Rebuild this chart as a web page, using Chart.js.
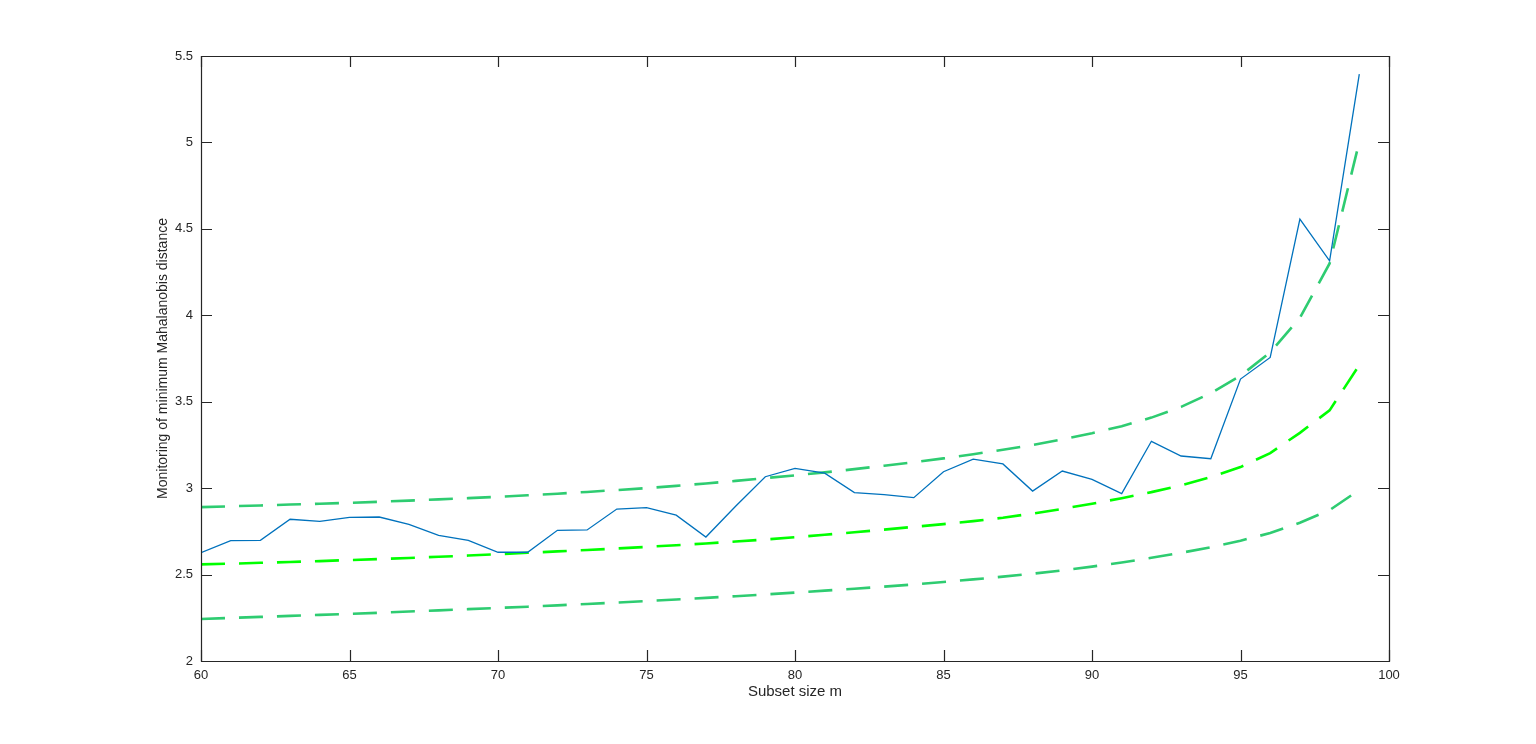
<!DOCTYPE html>
<html>
<head>
<meta charset="utf-8">
<script src="https://cdn.jsdelivr.net/npm/chart.js@4.4.1/dist/chart.umd.min.js"></script>
<style>
  html, body { margin: 0; padding: 0; background: #ffffff; }
  canvas { display: block; }
</style>
</head>
<body>
<canvas id="c" width="1536" height="744"></canvas>
<script>
// ---- data ----
const subsetSize = [60,61,62,63,64,65,66,67,68,69,70,71,72,73,74,75,76,77,78,79,80,81,82,83,84,85,86,87,88,89,90,91,92,93,94,95,96,97,98,99];

const minMahalanobis = [2.627,2.696,2.698,2.820,2.808,2.831,2.833,2.791,2.727,2.698,2.629,2.629,2.756,2.758,2.879,2.887,2.844,2.717,2.895,3.066,3.114,3.087,2.974,2.962,2.945,3.095,3.168,3.140,2.983,3.099,3.051,2.968,3.271,3.186,3.170,3.631,3.756,4.556,4.315,5.395];

const envelopeUpper = [2.890,2.895,2.900,2.905,2.910,2.915,2.921,2.928,2.935,2.942,2.950,2.959,2.968,2.978,2.989,3.000,3.013,3.027,3.042,3.058,3.074,3.091,3.110,3.130,3.150,3.172,3.196,3.222,3.250,3.282,3.318,3.358,3.408,3.470,3.550,3.650,3.785,3.985,4.300,5.004];

const envelopeMiddle = [2.559,2.563,2.568,2.573,2.578,2.584,2.590,2.596,2.603,2.610,2.618,2.626,2.634,2.642,2.651,2.660,2.670,2.680,2.691,2.703,2.716,2.730,2.745,2.760,2.776,2.792,2.809,2.829,2.853,2.880,2.910,2.942,2.977,3.016,3.064,3.122,3.203,3.320,3.450,3.712];

const envelopeLower = [2.243,2.249,2.255,2.261,2.267,2.273,2.279,2.286,2.293,2.300,2.307,2.314,2.322,2.330,2.338,2.347,2.356,2.365,2.375,2.385,2.396,2.407,2.418,2.430,2.443,2.457,2.472,2.488,2.505,2.524,2.546,2.570,2.597,2.626,2.658,2.696,2.740,2.800,2.873,2.990];

const xTicks = [60,65,70,75,80,85,90,95,100];
const yTicks = [2,2.5,3,3.5,4,4.5,5,5.5];

const xTitle = 'Subset size m';
const yTitle = 'Monitoring of minimum Mahalanobis distance';

// ---- build ----
const pts = (ys) => subsetSize.map((m, i) => ({x: m, y: ys[i]}));

const AXIS_COLOR = '#262626';
const ENV_COLOR = 'rgb(46,204,113)';
const MID_COLOR = 'rgb(0,255,0)';
const FONT = '"Liberation Sans", Arial, Helvetica, sans-serif';

const matlabAxes = {
  id: 'matlabAxes',
  afterDatasetsDraw(chart) {
    const {ctx, chartArea: a, scales: {x, y}} = chart;
    const tl = 11;
    ctx.save();
    ctx.strokeStyle = AXIS_COLOR;
    ctx.lineWidth = 1.2;
    ctx.beginPath();
    ctx.rect(Math.round(a.left) + 0.5, Math.round(a.top) + 0.5, Math.round(a.right - a.left), Math.round(a.bottom - a.top));
    ctx.stroke();
    ctx.beginPath();
    xTicks.forEach(v => {
      const px = Math.round(x.getPixelForValue(v)) + 0.5;
      ctx.moveTo(px, a.bottom); ctx.lineTo(px, a.bottom - tl);
      ctx.moveTo(px, a.top); ctx.lineTo(px, a.top + tl);
    });
    yTicks.forEach(v => {
      const py = Math.round(y.getPixelForValue(v)) + 0.5;
      ctx.moveTo(a.left, py); ctx.lineTo(a.left + tl, py);
      ctx.moveTo(a.right, py); ctx.lineTo(a.right - tl, py);
    });
    ctx.stroke();
    ctx.restore();
  }
};

new Chart(document.getElementById('c'), {
  type: 'line',
  data: {
    datasets: [
      { label: 'min MD', data: pts(minMahalanobis), borderColor: '#0072BD', borderWidth: 1.3, pointRadius: 0, tension: 0, fill: false },
      { label: 'upper', data: pts(envelopeUpper), borderColor: ENV_COLOR, borderWidth: 2.6, borderDash: [24, 14], pointRadius: 0, tension: 0, fill: false },
      { label: 'middle', data: pts(envelopeMiddle), borderColor: MID_COLOR, borderWidth: 2.6, borderDash: [24, 14], pointRadius: 0, tension: 0, fill: false },
      { label: 'lower', data: pts(envelopeLower), borderColor: ENV_COLOR, borderWidth: 2.6, borderDash: [24, 14], pointRadius: 0, tension: 0, fill: false }
    ]
  },
  options: {
    responsive: false,
    animation: false,
    layout: { padding: { left: 0, top: 56, right: 147, bottom: 0 } },
    plugins: { legend: { display: false }, tooltip: { enabled: false } },
    scales: {
      x: {
        type: 'linear', min: 60, max: 100,
        afterBuildTicks: (s) => { s.ticks = xTicks.map(v => ({value: v})); },
        afterFit: (s) => { s.height = 83; },
        grid: { display: false, drawTicks: false },
        border: { display: false },
        ticks: { color: AXIS_COLOR, font: { family: FONT, size: 13 }, padding: 7, maxRotation: 0, callback: (v) => String(v) },
        title: { display: true, text: xTitle, color: AXIS_COLOR, font: { family: FONT, size: 15 }, padding: { top: 0, bottom: 43 } }
      },
      y: {
        type: 'linear', min: 2, max: 5.5,
        afterBuildTicks: (s) => { s.ticks = yTicks.map(v => ({value: v})); },
        afterFit: (s) => { s.width = 201; },
        grid: { display: false, drawTicks: false },
        border: { display: false },
        ticks: { color: AXIS_COLOR, font: { family: FONT, size: 13 }, padding: 8, callback: (v) => String(v) },
        title: { display: true, text: yTitle, color: AXIS_COLOR, font: { family: FONT, size: 14 }, padding: { top: 155, bottom: 0 } }
      }
    }
  },
  plugins: [matlabAxes]
});
</script>
</body>
</html>
